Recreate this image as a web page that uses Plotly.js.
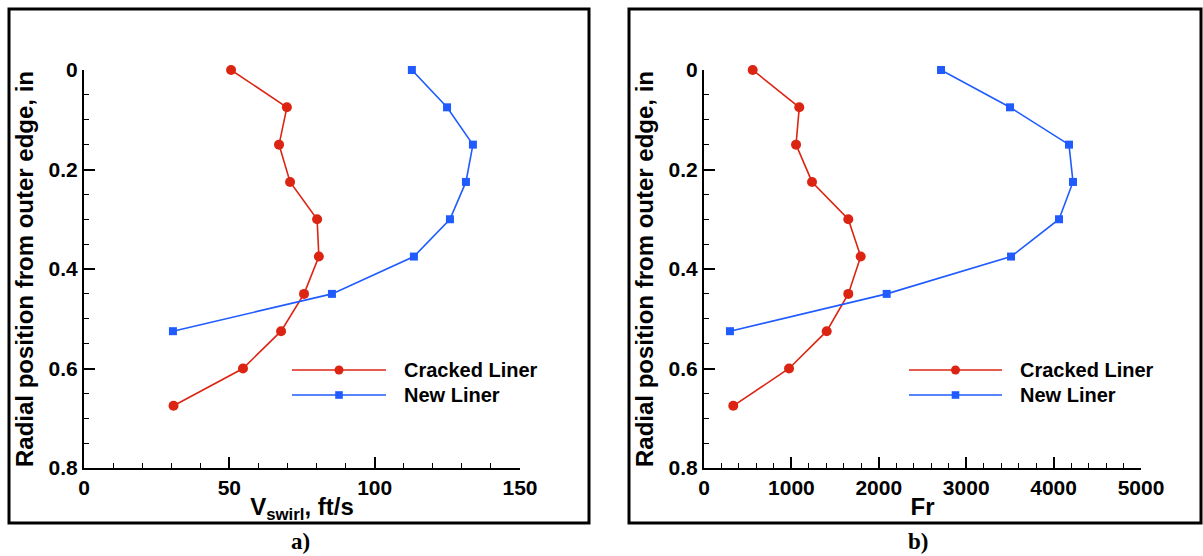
<!DOCTYPE html>
<html>
<head>
<meta charset="utf-8">
<script src="https://cdn.plot.ly/plotly-3.0.1.min.js"></script>
<style>
html,body{margin:0;padding:0;background:#fff;}
#chart{width:1203px;height:556px;}
</style>
</head>
<body>
<div id="chart"></div>
<script>
// ---- data ----
const crackedRadial = [0, 0.075, 0.15, 0.225, 0.3, 0.375, 0.45, 0.525, 0.6, 0.675];
const newRadial = [0, 0.075, 0.15, 0.225, 0.3, 0.375, 0.45, 0.525];
const crackedSwirl = [50.6, 69.8, 67.1, 70.9, 80.2, 80.8, 75.7, 67.8, 54.7, 30.8];
const newSwirl = [112.8, 124.9, 133.8, 131.4, 125.9, 113.5, 85.3, 30.6];
const crackedFr = [557, 1090, 1053, 1236, 1651, 1793, 1651, 1404, 973, 335];
const newFr = [2712, 3501, 4176, 4222, 4062, 3513, 2090, 297];
const seriesNames = ["Cracked Liner", "New Liner"];
const yTitle = "Radial position from outer edge, in";
const xTitleA = "V<sub>swirl</sub>, ft/s";
const xTitleB = "Fr";
const captions = ["a)", "b)"];

const RED = "#dc2412";
const BLUE = "#1f5bff";
const W = 1203, H = 556;
const px = x => x / W;
const py = y => (H - y) / H;

const redLine = {color: RED, width: 1.6};
const blueLine = {color: BLUE, width: 1.6};
const redMarker = {symbol: "circle", size: 10, color: RED};
const blueMarker = {symbol: "square", size: 8, color: BLUE};

const traces = [
  {x: crackedSwirl, y: crackedRadial, name: seriesNames[0], mode: "lines+markers", line: redLine, marker: redMarker, xaxis: "x", yaxis: "y", showlegend: false, cliponaxis: false},
  {x: newSwirl, y: newRadial, name: seriesNames[1], mode: "lines+markers", line: blueLine, marker: blueMarker, xaxis: "x", yaxis: "y", showlegend: false, cliponaxis: false},
  {x: crackedFr, y: crackedRadial, name: seriesNames[0], mode: "lines+markers", line: redLine, marker: redMarker, xaxis: "x2", yaxis: "y2", showlegend: false, cliponaxis: false},
  {x: newFr, y: newRadial, name: seriesNames[1], mode: "lines+markers", line: blueLine, marker: blueMarker, xaxis: "x2", yaxis: "y2", showlegend: false, cliponaxis: false}
];

const tickFont = {family: "Liberation Sans, Arial, sans-serif", size: 21, color: "#000", weight: "bold"};
const titleFont = {family: "Liberation Sans, Arial, sans-serif", size: 24, color: "#000", weight: "bold"};

const yDom = [py(468), py(70)];
function yAxis(anchor) {
  return {
    domain: yDom, anchor: anchor, range: [0.8, 0], autorange: false,
    showline: true, linecolor: "#000", linewidth: 2, mirror: false,
    ticks: "inside", ticklen: 11, tickwidth: 2, tickcolor: "#000",
    dtick: 0.2, tick0: 0, showgrid: false, zeroline: false,
    minor: {ticks: "inside", ticklen: 5, tickwidth: 1, tickcolor: "#000", dtick: 0.05, showgrid: false},
    tickfont: tickFont, automargin: false,
    title: {text: yTitle, font: titleFont, standoff: 8}
  };
}
function xAxis(anchor, dom, range, dtick, minorD, title) {
  return {
    domain: dom, anchor: anchor, range: range, autorange: false,
    showline: true, linecolor: "#000", linewidth: 2, mirror: false,
    ticks: "inside", ticklen: 11, tickwidth: 2, tickcolor: "#000",
    dtick: dtick, tick0: 0, showgrid: false, zeroline: false,
    minor: {ticks: "inside", ticklen: 5, tickwidth: 1, tickcolor: "#000", dtick: minorD, showgrid: false},
    tickfont: tickFont, automargin: false,
    title: {text: title, font: titleFont, standoff: 0}
  };
}

const shapes = [
  {type: "rect", xref: "paper", yref: "paper", x0: px(9), x1: px(589), y0: py(523), y1: py(9), line: {color: "#000", width: 3}},
  {type: "rect", xref: "paper", yref: "paper", x0: px(629), x1: px(1201), y0: py(523), y1: py(9), line: {color: "#000", width: 3}}
];
const annotations = [];
// custom legends
const legends = [{x0: 292, x1: 386, tx: 402}, {x0: 909, x1: 1002, tx: 1018}];
legends.forEach(L => {
  const mid = (L.x0 + L.x1) / 2;
  [[370, RED, "circle", seriesNames[0]], [395, BLUE, "square", seriesNames[1]]].forEach(([y, c, sym, name]) => {
    shapes.push({type: "line", xref: "paper", yref: "paper", x0: px(L.x0), x1: px(L.x1), y0: py(y), y1: py(y), line: {color: c, width: 1.6}});
    const r = sym === "circle" ? 4.5 : 3.8;
    shapes.push({type: sym === "circle" ? "circle" : "rect", xref: "paper", yref: "paper",
      x0: px(mid - r), x1: px(mid + r), y0: py(y + r), y1: py(y - r), fillcolor: c, line: {color: c, width: 0}});
    annotations.push({xref: "paper", yref: "paper", x: px(L.tx), y: py(y), xanchor: "left", yanchor: "middle",
      text: name, showarrow: false, font: {family: "Liberation Sans, Arial, sans-serif", size: 20, color: "#000", weight: "bold"}});
  });
});
annotations.push({xref: "paper", yref: "paper", x: px(300), y: py(541), xanchor: "center", yanchor: "middle", text: captions[0], showarrow: false,
  font: {family: "Liberation Serif, Times New Roman, serif", size: 23, color: "#000", weight: "bold"}});
annotations.push({xref: "paper", yref: "paper", x: px(918), y: py(541), xanchor: "center", yanchor: "middle", text: captions[1], showarrow: false,
  font: {family: "Liberation Serif, Times New Roman, serif", size: 23, color: "#000", weight: "bold"}});

const layout = {
  width: W, height: H,
  margin: {l: 0, r: 0, t: 0, b: 0, pad: 0},
  paper_bgcolor: "#fff", plot_bgcolor: "#fff",
  showlegend: false,
  xaxis: xAxis("y", [px(84), px(520)], [0, 150], 50, 10, xTitleA),
  yaxis: yAxis("x"),
  xaxis2: xAxis("y2", [px(704), px(1141)], [0, 5000], 1000, 200, xTitleB),
  yaxis2: yAxis("x2"),
  shapes: shapes,
  annotations: annotations
};

Plotly.newPlot("chart", traces, layout, {displayModeBar: false, staticPlot: true});
</script>
</body>
</html>
